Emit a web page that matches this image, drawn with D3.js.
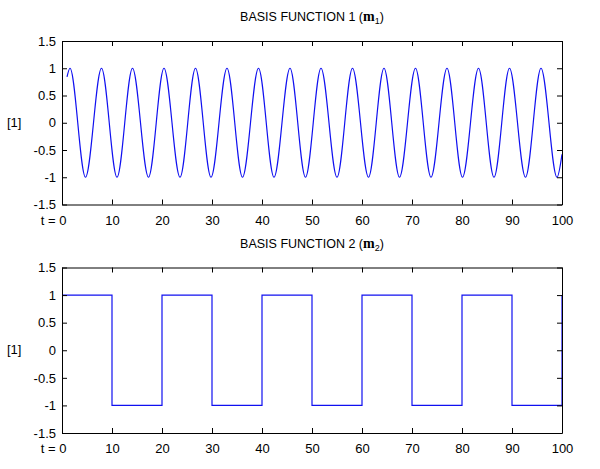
<!DOCTYPE html>
<html>
<head>
<meta charset="utf-8">
<script src="https://cdn.jsdelivr.net/npm/d3@7.9.0/dist/d3.min.js"></script>
<style>
  body { margin: 0; background: #fff; }
  svg { display: block; font-family: "Liberation Sans", Arial, sans-serif; }
</style>
</head>
<body>
<svg id="chart"></svg>
<script>
// ------------------------------------------------------------------
// Data
// ------------------------------------------------------------------
const xTicks = [0, 10, 20, 30, 40, 50, 60, 70, 80, 90, 100];
const yTicks = [-1.5, -1, -0.5, 0, 0.5, 1, 1.5];

// basis function 1: start point, then alternating peaks / troughs, then end
const basis1T = [1, 1.6, 4.7, 7.9, 11.0, 14.1, 17.3, 20.4, 23.6, 26.7, 29.8,
  33.0, 36.1, 39.3, 42.4, 45.6, 48.7, 51.8, 55.0, 58.1, 61.3, 64.4, 67.5,
  70.7, 73.8, 77.0, 80.1, 83.3, 86.4, 89.5, 92.7, 95.8, 99.0, 100];
const basis1V = [0.84, 1, -1, 1, -1, 1, -1, 1, -1, 1, -1,
  1, -1, 1, -1, 1, -1, 1, -1, 1, -1, 1, -1,
  1, -1, 1, -1, 1, -1, 1, -1, 1, -1, -0.58];

// basis function 2: square wave, each value held until the next t
const basis2T = [0, 10, 20, 30, 40, 50, 60, 70, 80, 90, 100];
const basis2V = [1, -1, 1, -1, 1, -1, 1, -1, 1, -1, 1];

const panels = [
  { title: 'BASIS FUNCTION 1 (', sym: 'm', sub: '1', t: basis1T, v: basis1V,
    curve: d3.curveMonotoneX, top: 41, bottom: 204.5 },
  { title: 'BASIS FUNCTION 2 (', sym: 'm', sub: '2', t: basis2T, v: basis2V,
    curve: d3.curveStepAfter, top: 267.5, bottom: 433 }
];

// ------------------------------------------------------------------
// Layout
// ------------------------------------------------------------------
const width = 600;
const height = 469;
const marginLeft = 62;
const marginRight = 38;
const tickLen = 5;
const fontSize = 13;

const svg = d3.select('#chart')
  .attr('width', width)
  .attr('height', height)
  .attr('viewBox', [0, 0, width, height]);

const x = d3.scaleLinear().domain([0, 100]).range([marginLeft, width - marginRight]);

panels.forEach((p) => {
  const y = d3.scaleLinear().domain([-1.5, 1.5]).range([p.bottom, p.top]);
  const g = svg.append('g');

  // plot line
  const line = d3.line()
    .x((d, i) => x(p.t[i]))
    .y((d) => y(d))
    .curve(p.curve);
  g.append('path')
    .attr('d', line(p.v))
    .attr('fill', 'none')
    .attr('stroke', '#1010f0')
    .attr('stroke-width', 1.2);

  // bottom axis (ticks inward, labels below)
  g.append('g')
    .attr('transform', `translate(0,${p.bottom})`)
    .call(d3.axisBottom(x).tickValues(xTicks).tickSizeInner(-tickLen).tickSizeOuter(0)
      .tickPadding(11).tickFormat(d => d === 0 ? 't = 0' : String(d)))
    .call((a) => a.selectAll('.tick text')
      .filter(d => d === 0).attr('text-anchor', 'end').attr('dx', '0.3em'));

  // top axis (ticks only)
  g.append('g')
    .attr('transform', `translate(0,${p.top})`)
    .call(d3.axisTop(x).tickValues(xTicks).tickSizeInner(-tickLen).tickSizeOuter(0).tickFormat(''));

  // left axis (plain hyphen minus, as in the picture)
  g.append('g')
    .attr('transform', `translate(${marginLeft},0)`)
    .call(d3.axisLeft(y).tickValues(yTicks).tickSizeInner(-tickLen).tickSizeOuter(0)
      .tickPadding(6).tickFormat(d => String(d)));

  // right axis (ticks only)
  g.append('g')
    .attr('transform', `translate(${width - marginRight},0)`)
    .call(d3.axisRight(y).tickValues(yTicks).tickSizeInner(-tickLen).tickSizeOuter(0).tickFormat(''));

  g.selectAll('.domain').attr('stroke', '#000');
  g.selectAll('.tick line').attr('stroke', '#000');
  g.selectAll('.tick text').attr('fill', '#000').attr('font-size', fontSize)
    .attr('font-family', '"Liberation Sans", Arial, sans-serif');

  // y label
  g.append('text')
    .attr('x', 7)
    .attr('y', (p.top + p.bottom) / 2 + 4)
    .attr('font-size', fontSize)
    .text('[1]');

  // title
  const title = g.append('text')
    .attr('x', (x(0) + x(100)) / 2)
    .attr('y', p.top - 20)
    .attr('text-anchor', 'middle')
    .attr('font-size', 12.5);
  title.append('tspan').text(p.title);
  title.append('tspan')
    .attr('font-family', '"Liberation Serif", "Times New Roman", serif')
    .attr('font-weight', 'bold')
    .attr('font-size', 14)
    .text(p.sym);
  title.append('tspan').attr('dy', 3).attr('font-size', 9).text(p.sub);
  title.append('tspan').attr('dy', -3).text(')');
});
</script>
</body>
</html>
